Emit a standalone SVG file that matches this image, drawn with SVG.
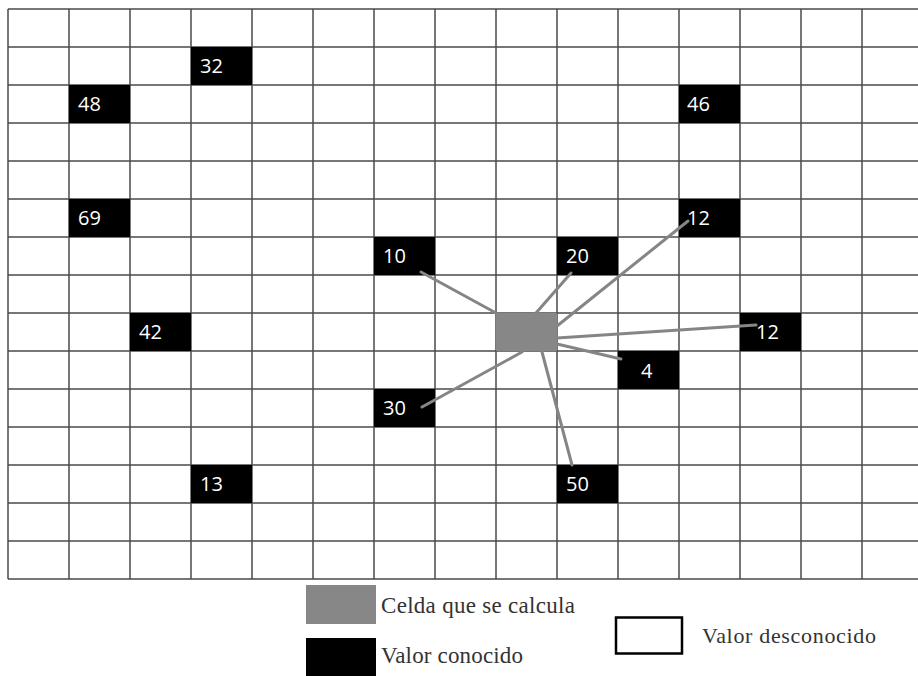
<svg xmlns="http://www.w3.org/2000/svg" width="918" height="676" viewBox="0 0 918 676">
<style>
.grid line{stroke:#4a4a4a;stroke-width:1.5}
.known rect{fill:#000}
.known text{fill:#fff;font-family:"Open Sans","Liberation Sans",sans-serif;font-size:20px}
.calc{fill:#878787}
.conn line{stroke:#858585;stroke-width:3;stroke-linecap:round}
.leg{font-family:"Liberation Serif","Times New Roman",serif;fill:#333}
</style>
<rect width="918" height="676" fill="#fff"/>
<g class="grid" id="grid">
<line x1="8" y1="9" x2="918" y2="9"/>
<line x1="8" y1="47" x2="918" y2="47"/>
<line x1="8" y1="85" x2="918" y2="85"/>
<line x1="8" y1="123" x2="918" y2="123"/>
<line x1="8" y1="161" x2="918" y2="161"/>
<line x1="8" y1="199" x2="918" y2="199"/>
<line x1="8" y1="237" x2="918" y2="237"/>
<line x1="8" y1="275" x2="918" y2="275"/>
<line x1="8" y1="313" x2="918" y2="313"/>
<line x1="8" y1="351" x2="918" y2="351"/>
<line x1="8" y1="389" x2="918" y2="389"/>
<line x1="8" y1="427" x2="918" y2="427"/>
<line x1="8" y1="465" x2="918" y2="465"/>
<line x1="8" y1="503" x2="918" y2="503"/>
<line x1="8" y1="541" x2="918" y2="541"/>
<line x1="8" y1="579" x2="918" y2="579"/>
<line x1="8" y1="9" x2="8" y2="579"/>
<line x1="69" y1="9" x2="69" y2="579"/>
<line x1="130" y1="9" x2="130" y2="579"/>
<line x1="191" y1="9" x2="191" y2="579"/>
<line x1="252" y1="9" x2="252" y2="579"/>
<line x1="313" y1="9" x2="313" y2="579"/>
<line x1="374" y1="9" x2="374" y2="579"/>
<line x1="435" y1="9" x2="435" y2="579"/>
<line x1="496" y1="9" x2="496" y2="579"/>
<line x1="557" y1="9" x2="557" y2="579"/>
<line x1="618" y1="9" x2="618" y2="579"/>
<line x1="679" y1="9" x2="679" y2="579"/>
<line x1="740" y1="9" x2="740" y2="579"/>
<line x1="801" y1="9" x2="801" y2="579"/>
<line x1="862" y1="9" x2="862" y2="579"/>
</g>
<g id="n32" class="known"><rect x="191" y="47" width="61" height="38"/><text x="200" y="73">32</text></g>
<g id="n48" class="known"><rect x="69" y="85" width="61" height="38"/><text x="78" y="111">48</text></g>
<g id="n46" class="known"><rect x="679" y="85" width="61" height="38"/><text x="687" y="111">46</text></g>
<g id="n69" class="known"><rect x="69" y="199" width="61" height="38"/><text x="78" y="225">69</text></g>
<g id="n12a" class="known"><rect x="679" y="199" width="61" height="38"/><text x="687" y="225">12</text></g>
<g id="n10" class="known"><rect x="374" y="237" width="61" height="38"/><text x="383" y="263">10</text></g>
<g id="n20" class="known"><rect x="557" y="237" width="61" height="38"/><text x="566" y="263">20</text></g>
<g id="n42" class="known"><rect x="130" y="313" width="61" height="38"/><text x="139" y="339">42</text></g>
<g id="n12b" class="known"><rect x="740" y="313" width="61" height="38"/><text x="756" y="339">12</text></g>
<g id="n4" class="known"><rect x="618" y="351" width="61" height="38"/><text x="641" y="378">4</text></g>
<g id="n30" class="known"><rect x="374" y="389" width="61" height="38"/><text x="383" y="415">30</text></g>
<g id="n13" class="known"><rect x="191" y="465" width="61" height="38"/><text x="200" y="491">13</text></g>
<g id="n50" class="known"><rect x="557" y="465" width="61" height="38"/><text x="566" y="491">50</text></g>
<g id="calc"><rect class="calc" x="496" y="313" width="61" height="38"/></g>
<g class="conn" id="connectors">
<line x1="421" y1="272" x2="496" y2="313"/>
<line x1="571" y1="273" x2="536" y2="313"/>
<line x1="688" y1="221" x2="557" y2="326"/>
<line x1="756" y1="325" x2="557" y2="338"/>
<line x1="621" y1="359" x2="557" y2="344"/>
<line x1="422" y1="407" x2="522" y2="352"/>
<line x1="572" y1="465" x2="542" y2="352"/>
</g>
<g id="legend">
<rect x="306" y="585" width="70" height="39" fill="#878787"/>
<text class="leg" x="381" y="613" font-size="23" textLength="194" lengthAdjust="spacing">Celda que se calcula</text>
<rect x="306" y="638" width="70" height="38" fill="#000"/>
<text class="leg" x="381" y="663" font-size="23" textLength="142" lengthAdjust="spacing">Valor conocido</text>
<rect x="616" y="617.5" width="66" height="36" fill="#fff" stroke="#000" stroke-width="2.5"/>
<text class="leg" x="702" y="643" font-size="22" textLength="174" lengthAdjust="spacing">Valor desconocido</text>
</g>
</svg>
